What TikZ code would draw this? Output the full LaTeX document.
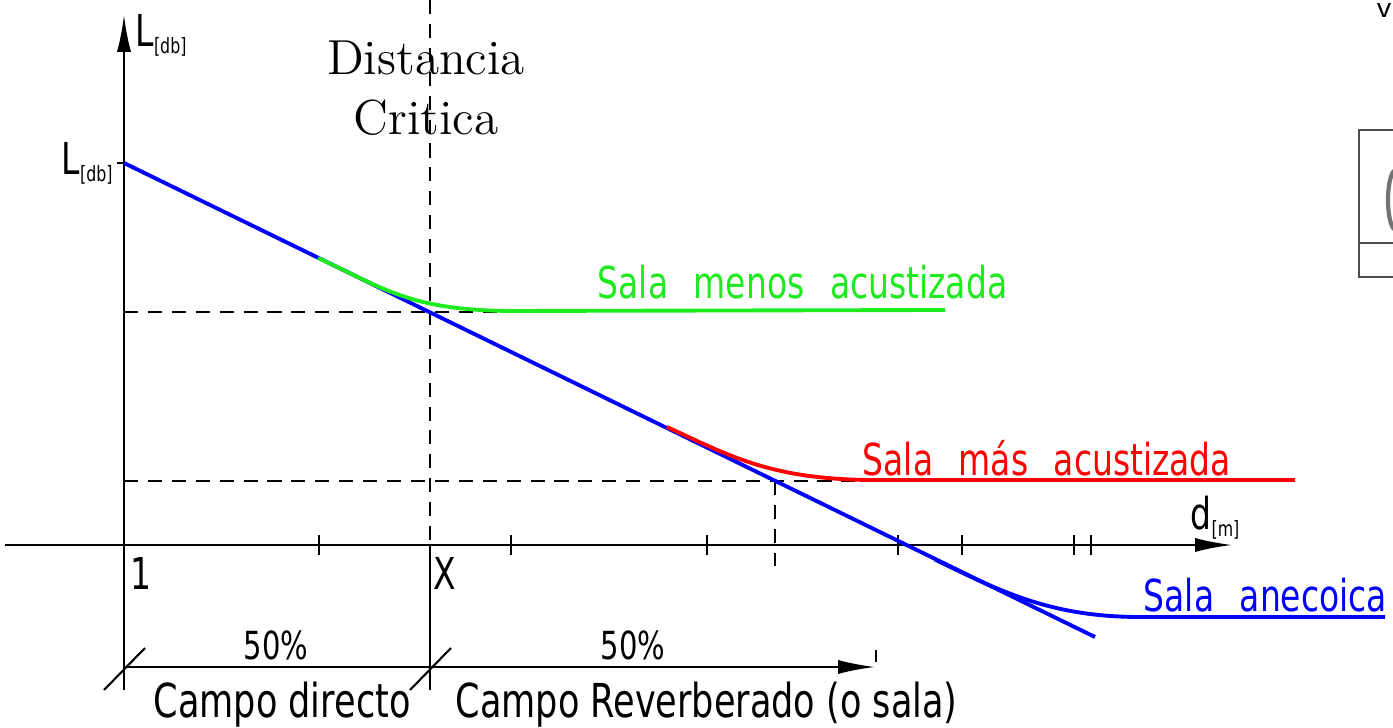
\documentclass[tikz,border=0pt]{standalone}
\usepackage{fontspec}
\newfontfamily\iso[FakeStretch=0.75]{DejaVu Sans}
\usetikzlibrary{arrows.meta}
\definecolor{cgreen}{RGB}{30,235,30}
\definecolor{cred}{RGB}{255,0,0}
\definecolor{cblue}{RGB}{0,0,255}
\newcommand\wsp{\ \hspace{4.3pt}}
\tikzset{
  ax/.style={line width=0.6pt, black},
  dsh/.style={line width=0.6pt, black, dash pattern=on 4pt off 2.8pt},
  crv/.style={line width=1.1pt},
  tip/.style={-{Latex[length=10.5pt,width=4pt]}},
  lbl/.style={font=\iso\fontsize{12.5}{14}\selectfont, inner sep=0pt},
  big/.style={font=\iso\fontsize{13.3}{15}\selectfont, inner sep=0pt},
  pct/.style={font=\iso\fontsize{11}{13}\selectfont, inner sep=0pt},
  ttl/.style={font=\fontsize{14}{17}\selectfont, inner sep=0pt, align=center},
}
\begin{document}
\begin{tikzpicture}[x=0.01cm,y=-0.01cm]
\useasboundingbox (0,0) rectangle (1393,728);

% coordinates
\coordinate (ytop) at (124,15);
\coordinate (ybot) at (124,690);
\coordinate (xl) at (5,545);
\coordinate (xr) at (1232,545);
\coordinate (L0) at (124,163);
\coordinate (Lend) at (1095,637);

% axes
\draw[ax,tip] (ybot) -- (ytop);
\draw[ax,tip] (xl) -- (xr);
\foreach \x in {319,511,707,898,962,1074,1091} \draw[ax] (\x,535) -- (\x,555);
\draw[ax] (117,163) -- (L0);

% dashed guides
\draw[dsh] (430,0) -- (430,545);
\draw[ax] (430,545) -- (430,690);
\draw[dsh] (124,312) -- (500,312);
\draw[dsh] (124,481) -- (870,481);
\draw[dsh] (775,481) -- (775,566);

% curves
\draw[crv,cblue] (L0) -- (Lend);
\draw[crv,cgreen] (318,258) .. controls (385,289) and (410,310) .. (510,311) -- (945,310);
\draw[crv,cred] (667,427) .. controls (730,456) and (770,479) .. (870,480) -- (1295,480);
\draw[crv,cblue] (935,559.6) .. controls (1000,591) and (1050,617) .. (1140,617) -- (1385,617);

% curve labels
\node[lbl,cgreen,anchor=base west] (lmenos) at (597,299) {Sala\wsp menos\wsp acustizada};
\node[lbl,cred,anchor=base west] (lmas) at (862,476) {Sala\wsp más\wsp acustizada};
\node[lbl,cblue,anchor=base west] (lane) at (1143,612) {Sala\wsp anecoica};

% axis labels
\node[lbl,anchor=base west] (Ly) at (135,47) {L\textsubscript{\fontsize{6}{6}\selectfont[db]}};
\node[lbl,anchor=base east] (Ly2) at (115,175) {L\textsubscript{\fontsize{6}{6}\selectfont[db]}};
\node[lbl,anchor=base west] (dx) at (1190,530) {d\textsubscript{\fontsize{6}{6}\selectfont[m]}};
\node[lbl,anchor=base west] (one) at (130,590) {1};
\node[lbl,anchor=base west] (ex) at (433,590) {X};

% title
\node[ttl] (tit) at (426,88) {Distancia\\Critica};

% dimension line
\draw[ax,tip] (124,667) -- (875,667);
\draw[ax] (876,650) -- (876,662);
\draw[ax] (104,690) -- (145,648);
\draw[ax] (410,690) -- (451,648);
\node[pct,anchor=base] (p1) at (276,660) {50\%};
\node[pct,anchor=base] (p2) at (633,660) {50\%};
\node[big,anchor=base west] (cd) at (153,718) {Campo directo};
\node[big,anchor=base west] (cr) at (455,718) {Campo Reverberado (o sala)};

% partial neighbouring figure at right edge
\draw[line width=0.6pt, black!70] (1393,130) -- (1359,130) -- (1359,277) -- (1393,277);
\draw[line width=0.6pt, black!70] (1359,243) -- (1393,243);
\draw[line width=1.2pt, black!55] (1396,200) ellipse [x radius=8, y radius=30];
\node[font=\sffamily\fontsize{9}{9}\selectfont, inner sep=0pt, anchor=north] (vv) at (1384,3) {v};
\end{tikzpicture}
\end{document}
